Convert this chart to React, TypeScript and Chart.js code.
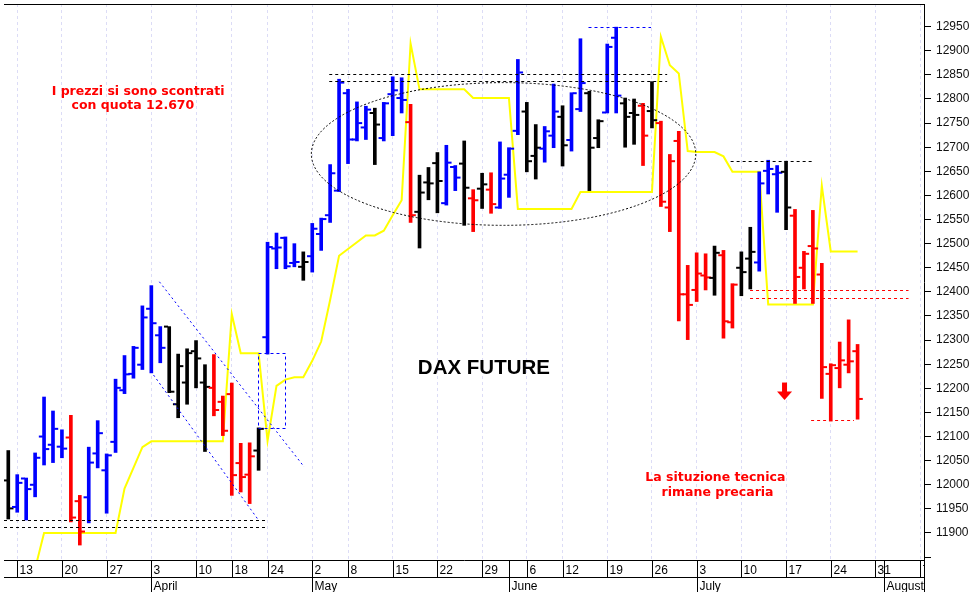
import React, { useEffect, useRef } from 'react';
import { Chart, registerables } from 'chart.js';

Chart.register(...registerables);

const W = 973;
const H = 592;

// Trading days shown (x index = position in this list)
const tradingDays = [
  '2017-03-10',
  '2017-03-13', '2017-03-14', '2017-03-15', '2017-03-16', '2017-03-17',
  '2017-03-20', '2017-03-21', '2017-03-22', '2017-03-23', '2017-03-24',
  '2017-03-27', '2017-03-28', '2017-03-29', '2017-03-30', '2017-03-31',
  '2017-04-03', '2017-04-04', '2017-04-05', '2017-04-06', '2017-04-07',
  '2017-04-10', '2017-04-11', '2017-04-12', '2017-04-13',
  '2017-04-18', '2017-04-19', '2017-04-20', '2017-04-21',
  '2017-04-24', '2017-04-25', '2017-04-26', '2017-04-27', '2017-04-28',
  '2017-05-02', '2017-05-03', '2017-05-04', '2017-05-05',
  '2017-05-08', '2017-05-09', '2017-05-10', '2017-05-11', '2017-05-12',
  '2017-05-15', '2017-05-16', '2017-05-17', '2017-05-18', '2017-05-19',
  '2017-05-22', '2017-05-23', '2017-05-24', '2017-05-25', '2017-05-26',
  '2017-05-29', '2017-05-30', '2017-05-31', '2017-06-01', '2017-06-02',
  '2017-06-06', '2017-06-07', '2017-06-08', '2017-06-09',
  '2017-06-12', '2017-06-13', '2017-06-14', '2017-06-15', '2017-06-16',
  '2017-06-19', '2017-06-20', '2017-06-21', '2017-06-22', '2017-06-23',
  '2017-06-26', '2017-06-27', '2017-06-28', '2017-06-29', '2017-06-30',
  '2017-07-03', '2017-07-04', '2017-07-05', '2017-07-06', '2017-07-07',
  '2017-07-10', '2017-07-11', '2017-07-12', '2017-07-13', '2017-07-14',
  '2017-07-17', '2017-07-18', '2017-07-19', '2017-07-20', '2017-07-21',
  '2017-07-24', '2017-07-25', '2017-07-26', '2017-07-27',
];

const opens = [
  12009, 11954, 12013, 12000, 12100, 12083, 12079, 12098, 11966, 11974,
  12065, 12030, 12089, 12196, 12230, 12249, 12365, 12310, 12328, 12167,
  12212, 12277, 12212, 12201, 12172, 12188, 12045, 12021, 12071, 12306,
  12490, 12512, 12460, 12452, 12474, 12520, 12559, 12610, 12812, 12716,
  12741, 12771, 12719, 12810, 12802, 12752, 12566, 12627, 12667, 12584,
  12659, 12666, 12594, 12614, 12612, 12575, 12643, 12734, 12774, 12682,
  12697, 12724, 12763, 12715, 12779, 12812, 12719, 12772, 12927, 12791,
  12771, 12786, 12775, 12750, 12575, 12713, 12395, 12404, 12434, 12429,
  12476, 12337, 12450, 12469, 12461, 12651, 12644, 12649, 12558, 12450,
  12495, 12436, 12230, 12242, 12249, 12277,
];

const highs = [
  12071, 12021, 12014, 12066, 12182, 12153, 12114, 12144, 11978, 12078,
  12133, 12064, 12219, 12268, 12287, 12371, 12413, 12328, 12328, 12271,
  12282, 12299, 12249, 12270, 12184, 12211, 12086, 12087, 12118, 12503,
  12522, 12514, 12500, 12483, 12542, 12553, 12664, 12841, 12820, 12794,
  12785, 12781, 12793, 12846, 12844, 12789, 12642, 12658, 12689, 12704,
  12662, 12713, 12612, 12646, 12647, 12711, 12699, 12882, 12793, 12747,
  12743, 12831, 12786, 12813, 12925, 12816, 12757, 12914, 12949, 12802,
  12800, 12791, 12836, 12754, 12685, 12733, 12455, 12481, 12479, 12495,
  12486, 12417, 12483, 12534, 12649, 12673, 12662, 12671, 12571, 12484,
  12569, 12459, 12251, 12296, 12342, 12291,
];

const lows = [
  11929, 11943, 11927, 11975, 12041, 12046, 12056, 11923, 11875, 11921,
  12035, 11941, 12067, 12189, 12221, 12239, 12232, 12253, 12191, 12139,
  12167, 12201, 12069, 12143, 12102, 11978, 11985, 11961, 12030, 12271,
  12448, 12448, 12452, 12424, 12441, 12486, 12544, 12608, 12666, 12713,
  12716, 12664, 12713, 12724, 12771, 12544, 12491, 12591, 12564, 12580,
  12610, 12538, 12525, 12573, 12563, 12573, 12596, 12726, 12649, 12634,
  12669, 12699, 12661, 12692, 12774, 12610, 12699, 12771, 12771, 12700,
  12706, 12662, 12740, 12577, 12525, 12340, 12301, 12380, 12404, 12393,
  12304, 12325, 12392, 12406, 12443, 12603, 12565, 12529, 12376, 12406,
  12376, 12179, 12132, 12201, 12232, 12136,
];

const closes = [
  11951, 12004, 11991, 12056, 12074, 12116, 12075, 11932, 11903, 12046,
  12107, 12061, 12201, 12229, 12284, 12347, 12335, 12284, 12193, 12246,
  12273, 12262, 12203, 12155, 12112, 12020, 12016, 12059, 12116, 12493,
  12492, 12453, 12462, 12462, 12531, 12551, 12646, 12834, 12716, 12750,
  12778, 12747, 12791, 12818, 12798, 12559, 12606, 12625, 12630, 12668,
  12637, 12616, 12590, 12623, 12582, 12635, 12697, 12855, 12671, 12699,
  12733, 12774, 12704, 12812, 12833, 12699, 12754, 12908, 12807, 12763,
  12767, 12724, 12756, 12587, 12671, 12395, 12373, 12438, 12430, 12481,
  12339, 12415, 12441, 12483, 12625, 12655, 12647, 12575, 12431, 12479,
  12490, 12244, 12248, 12258, 12256, 12178,
];

// b = blue, k = black, r = red
const barColorKeys = [
  'k', 'b', 'b', 'b', 'b', 'b', 'b', 'r', 'r', 'b',
  'b', 'b', 'b', 'b', 'b', 'b', 'b', 'b', 'k', 'k',
  'k', 'k', 'k', 'r', 'r', 'r', 'r', 'r', 'k', 'b',
  'b', 'b', 'b', 'k', 'b', 'b', 'b', 'b', 'b', 'b',
  'b', 'k', 'b', 'b', 'b', 'r', 'k', 'k', 'k', 'b',
  'b', 'k', 'r', 'k', 'r', 'b', 'b', 'b', 'k', 'k',
  'b', 'b', 'k', 'b', 'b', 'k', 'k', 'b', 'b', 'k',
  'k', 'r', 'k', 'r', 'r', 'r', 'r', 'r', 'r', 'k',
  'r', 'r', 'k', 'k', 'b', 'b', 'b', 'k', 'r', 'r',
  'r', 'r', 'r', 'r', 'r', 'r',
];

// Yellow indicator line
const stopLine = [
  null, null, 11745, 11826, 11900, 11900, 11900, 11900, 11900, 11900,
  11900, 11900, 11900, 11992, 12035, 12078, 12090, 12090, 12090, 12090,
  12090, 12090, 12090, 12090, 12090, 12354, 12273, 12273, 12273, 12091,
  12205, 12218, 12223, 12223, 12257, 12297, 12383, 12475, 12489, 12503,
  12517, 12517, 12527, 12559, 12590, 12915, 12820, 12820, 12820, 12820,
  12820, 12820, 12802, 12802, 12802, 12802, 12802, 12572, 12572, 12572,
  12572, 12572, 12572, 12572, 12607, 12607, 12607, 12607, 12607, 12607,
  12607, 12607, 12607, 12929, 12870, 12853, 12692, 12690, 12690, 12690,
  12681, 12649, 12649, 12649, 12649, 12374, 12374, 12374, 12374, 12374,
  12374, 12620, 12484, 12484, 12484, 12484,
];

const priceTicks = [
  11850, 11900, 11950, 12000, 12050, 12100, 12150, 12200, 12250, 12300, 12350, 12400,
  12450, 12500, 12550, 12600, 12650, 12700, 12750, 12800, 12850, 12900, 12950,
];

const weekTicks = [
  { i: 1, label: '13' }, { i: 6, label: '20' }, { i: 11, label: '27' }, { i: 16, label: '3' },
  { i: 21, label: '10' }, { i: 25, label: '18' }, { i: 29, label: '24' }, { i: 34, label: '2' },
  { i: 38, label: '8' }, { i: 43, label: '15' }, { i: 48, label: '22' }, { i: 53, label: '29' },
  { i: 58, label: '6' }, { i: 62, label: '12' }, { i: 67, label: '19' }, { i: 72, label: '26' },
  { i: 77, label: '3' }, { i: 82, label: '10' }, { i: 87, label: '17' }, { i: 92, label: '24' },
  { i: 97, label: '31' }, { i: 102, label: '7' },
];

const monthTicks = [
  { i: 16, label: 'April' }, { i: 34, label: 'May' }, { i: 56, label: 'June' },
  { i: 77, label: 'July' }, { i: 98, label: 'August' },
];

// ---- annotations (in data units) ----
const levelLines = [
  { from: -0.48, to: 28.8, value: 11927, color: '#000000' },
  { from: -0.48, to: 28.8, value: 11913, color: '#000000' },
  { from: 35.9, to: 73.7, value: 12851, color: '#000000' },
  { from: 35.9, to: 73.7, value: 12838, color: '#000000' },
  { from: 64.9, to: 71.9, value: 12949, color: '#0000ff' },
  { from: 80.8, to: 90.0, value: 12671, color: '#000000' },
  { from: 82.97, to: 100.7, value: 12404, color: '#ff0000' },
  { from: 82.97, to: 100.7, value: 12388, color: '#ff0000' },
  { from: 89.8, to: 94.6, value: 12135, color: '#ff0000' },
];
const channelLines = [
  { x0: 16.9, y0: 12421, x1: 33.1, y1: 12037 },
  { x0: 15.92, y0: 12236, x1: 27.9, y1: 11929 },
];
const boxZone = { x0: 27.9, x1: 31.0, y0: 12118, y1: 12273 };
const ellipseZone = { cx: 55.4, cy: 12686, rx: 21.5, ry: 148 };
const arrowAt = { x: 86.83, y: 12212 };
const notes = [
  { x: 14.52, y: 12816, text: 'I prezzi si sono scontrati', color: '#ff0000', font: 'bold 12.5px "DejaVu Sans", Verdana, sans-serif' },
  { x: 13.94, y: 12785, text: 'con quota 12.670', color: '#ff0000', font: 'bold 12.5px "DejaVu Sans", Verdana, sans-serif' },
  { x: 53.2, y: 12242, text: 'DAX FUTURE', color: '#000000', font: 'bold 20.5px "Liberation Sans", Arial, sans-serif' },
  { x: 79.09, y: 12015, text: 'La situzione tecnica', color: '#ff0000', font: 'bold 12.5px "DejaVu Sans", Verdana, sans-serif' },
  { x: 79.34, y: 11984, text: 'rimane precaria', color: '#ff0000', font: 'bold 12.5px "DejaVu Sans", Verdana, sans-serif' },
];

const X_MIN = -0.48;
const X_MAX = 102.43;
const Y_MIN = 11844;
const Y_MAX = 12997;
const TICK_OFF = 0.36;

const COLORS: Record<string, string> = { b: '#0000ff', k: '#000000', r: '#ff0000' };
const AXIS_FONT = '12px "Liberation Sans", Arial, sans-serif';

const overlayPlugin = {
  id: 'overlay',
  beforeDraw(chart: any) {
    const ctx = chart.ctx;
    ctx.save();
    ctx.fillStyle = '#ffffff';
    ctx.fillRect(0, 0, chart.width, chart.height);
    ctx.restore();
  },
  afterDatasetsDraw(chart: any) {
    const ctx = chart.ctx;
    const xs = chart.scales.x;
    const ys = chart.scales.y;
    const area = chart.chartArea;
    ctx.save();
    ctx.beginPath();
    ctx.rect(area.left, area.top, area.right - area.left, area.bottom - area.top);
    ctx.clip();

    // horizontal dashed levels
    ctx.lineWidth = 1;
    levelLines.forEach((l) => {
      const y = Math.round(ys.getPixelForValue(l.value)) + 0.5;
      ctx.strokeStyle = l.color;
      ctx.setLineDash([3, 3]);
      ctx.beginPath();
      ctx.moveTo(xs.getPixelForValue(l.from), y);
      ctx.lineTo(xs.getPixelForValue(l.to), y);
      ctx.stroke();
    });

    // channel (blue dotted)
    ctx.strokeStyle = '#0000ff';
    ctx.setLineDash([2, 3]);
    channelLines.forEach((c) => {
      ctx.beginPath();
      ctx.moveTo(xs.getPixelForValue(c.x0), ys.getPixelForValue(c.y0));
      ctx.lineTo(xs.getPixelForValue(c.x1), ys.getPixelForValue(c.y1));
      ctx.stroke();
    });

    // blue dashed box
    ctx.strokeStyle = '#0000ff';
    ctx.setLineDash([3, 3]);
    {
      const x0 = Math.round(xs.getPixelForValue(boxZone.x0)) + 0.5;
      const x1 = Math.round(xs.getPixelForValue(boxZone.x1)) + 0.5;
      const y0 = Math.round(ys.getPixelForValue(boxZone.y1)) + 0.5;
      const y1 = Math.round(ys.getPixelForValue(boxZone.y0)) + 0.5;
      ctx.beginPath();
      ctx.rect(x0, y0, x1 - x0, y1 - y0);
      ctx.stroke();
    }

    // dotted ellipse
    {
      const cx = xs.getPixelForValue(ellipseZone.cx);
      const cy = ys.getPixelForValue(ellipseZone.cy);
      const rx = xs.getPixelForValue(ellipseZone.cx + ellipseZone.rx) - cx;
      const ry = ys.getPixelForValue(ellipseZone.cy - ellipseZone.ry) - cy;
      ctx.strokeStyle = '#000000';
      ctx.setLineDash([2, 2]);
      ctx.beginPath();
      ctx.ellipse(cx, cy, rx, ry, 0, 0, Math.PI * 2);
      ctx.stroke();
    }
    ctx.setLineDash([]);

    // red down arrow
    {
      const ax = xs.getPixelForValue(arrowAt.x);
      const ay = ys.getPixelForValue(arrowAt.y);
      ctx.fillStyle = '#ff0000';
      ctx.fillRect(ax - 2.5, ay, 5, 10);
      ctx.beginPath();
      ctx.moveTo(ax - 7.5, ay + 9);
      ctx.lineTo(ax + 7.5, ay + 9);
      ctx.lineTo(ax, ay + 17.5);
      ctx.closePath();
      ctx.fill();
    }

    // texts
    ctx.textAlign = 'center';
    ctx.textBaseline = 'middle';
    notes.forEach((n) => {
      ctx.font = n.font;
      ctx.fillStyle = n.color;
      ctx.fillText(n.text, xs.getPixelForValue(n.x), ys.getPixelForValue(n.y));
    });
    ctx.restore();
  },
  afterDraw(chart: any) {
    const ctx = chart.ctx;
    const xs = chart.scales.x;
    const area = chart.chartArea;
    const bottom = area.bottom;
    const rowY = bottom + 17;
    ctx.save();
    ctx.strokeStyle = '#000000';
    ctx.lineWidth = 1;
    // top frame line
    ctx.beginPath();
    ctx.moveTo(area.left, area.top + 0.5);
    ctx.lineTo(area.right, area.top + 0.5);
    ctx.stroke();
    // right axis line down through date rows
    ctx.beginPath();
    ctx.moveTo(Math.round(area.right) + 0.5, bottom);
    ctx.lineTo(Math.round(area.right) + 0.5, chart.height);
    ctx.stroke();

    ctx.beginPath();
    ctx.rect(area.left, bottom, area.right - area.left, chart.height - bottom);
    ctx.clip();

    ctx.beginPath();
    ctx.moveTo(area.left, rowY + 0.5);
    ctx.lineTo(area.right, rowY + 0.5);
    ctx.stroke();

    ctx.font = AXIS_FONT;
    ctx.fillStyle = '#000000';
    ctx.textAlign = 'left';
    ctx.textBaseline = 'alphabetic';
    weekTicks.forEach((t) => {
      const px = Math.round(xs.getPixelForValue(t.i)) + 0.5;
      ctx.beginPath();
      ctx.moveTo(px, bottom);
      ctx.lineTo(px, rowY);
      ctx.stroke();
      ctx.fillText(t.label, px + 2, bottom + 14);
    });
    monthTicks.forEach((m) => {
      const px = Math.round(xs.getPixelForValue(m.i)) + 0.5;
      ctx.beginPath();
      ctx.moveTo(px, bottom);
      ctx.lineTo(px, chart.height);
      ctx.stroke();
      ctx.fillText(m.label, px + 2, chart.height - 2.5);
    });
    ctx.restore();
  },
};

export default function App() {
  const ref = useRef<HTMLCanvasElement | null>(null);

  useEffect(() => {
    const canvas = ref.current;
    if (!canvas) return;
    const colors = barColorKeys.map((k) => COLORS[k]);

    const chart = new Chart(canvas, {
      type: 'bar',
      data: {
        labels: tradingDays,
        datasets: [
          {
            type: 'scatter',
            label: 'Open',
            data: opens.map((v, i) => ({ x: i - TICK_OFF, y: v })),
            pointStyle: 'line',
            pointRadius: 2,
            pointHoverRadius: 2,
            pointBorderWidth: 2,
            pointBorderColor: colors,
            pointBackgroundColor: colors,
            order: 1,
          } as any,
          {
            type: 'scatter',
            label: 'Close',
            data: closes.map((v, i) => ({ x: i + TICK_OFF, y: v })),
            pointStyle: 'line',
            pointRadius: 2,
            pointHoverRadius: 2,
            pointBorderWidth: 2,
            pointBorderColor: colors,
            pointBackgroundColor: colors,
            order: 1,
          } as any,
          {
            type: 'bar',
            label: 'High-Low',
            data: highs.map((h, i) => ({ x: i, y: [lows[i], h] })),
            backgroundColor: colors,
            borderWidth: 0,
            barThickness: 3,
            order: 2,
          } as any,
          {
            type: 'line',
            label: 'Stop',
            data: stopLine.map((v, i) => ({ x: i, y: v })),
            borderColor: '#ffff00',
            borderWidth: 2,
            pointRadius: 0,
            tension: 0,
            fill: false,
            order: 3,
          } as any,
        ],
      },
      options: {
        responsive: false,
        animation: false,
        devicePixelRatio: 1,
        events: [],
        layout: { padding: 0 },
        plugins: {
          legend: { display: false },
          tooltip: { enabled: false },
          title: { display: false },
        },
        scales: {
          x: {
            type: 'linear',
            min: X_MIN,
            max: X_MAX,
            offset: false,
            afterBuildTicks: (s: any) => {
              s.ticks = weekTicks.map((t) => ({ value: t.i }));
            },
            afterFit: (s: any) => {
              s.height = 32;
              s.paddingLeft = 0;
              s.paddingRight = 0;
              s.paddingTop = 0;
              s.paddingBottom = 0;
            },
            ticks: { display: false },
            grid: { color: '#dcdcf6', lineWidth: 1, drawTicks: false, offset: false },
            border: { display: true, color: '#000000', width: 1, dash: [3, 3] },
          },
          y: {
            type: 'linear',
            position: 'right',
            min: Y_MIN,
            max: Y_MAX,
            beginAtZero: false,
            afterBuildTicks: (s: any) => {
              s.ticks = priceTicks.map((v) => ({ value: v }));
            },
            afterFit: (s: any) => {
              s.width = W - 924;
              s.paddingTop = 0;
              s.paddingBottom = 0;
              s.paddingLeft = 0;
              s.paddingRight = 0;
            },
            ticks: {
              callback: (v: any) => (Number(v) === 11850 ? '' : String(v)),
              font: { family: '"Liberation Sans", Arial, sans-serif', size: 12 },
              color: '#111111',
              padding: 5,
            },
            grid: { drawOnChartArea: false, drawTicks: true, tickLength: 7, tickColor: '#000000', color: '#000000' },
            border: { display: true, color: '#000000', width: 1 },
          },
        },
      } as any,
      plugins: [overlayPlugin],
    });

    return () => chart.destroy();
  }, []);

  return (
    <div style={{ position: 'absolute', left: 0, top: 0, width: W, height: H, background: '#ffffff' }}>
      <canvas ref={ref} width={W} height={H} style={{ display: 'block', width: W, height: H }} />
    </div>
  );
}
